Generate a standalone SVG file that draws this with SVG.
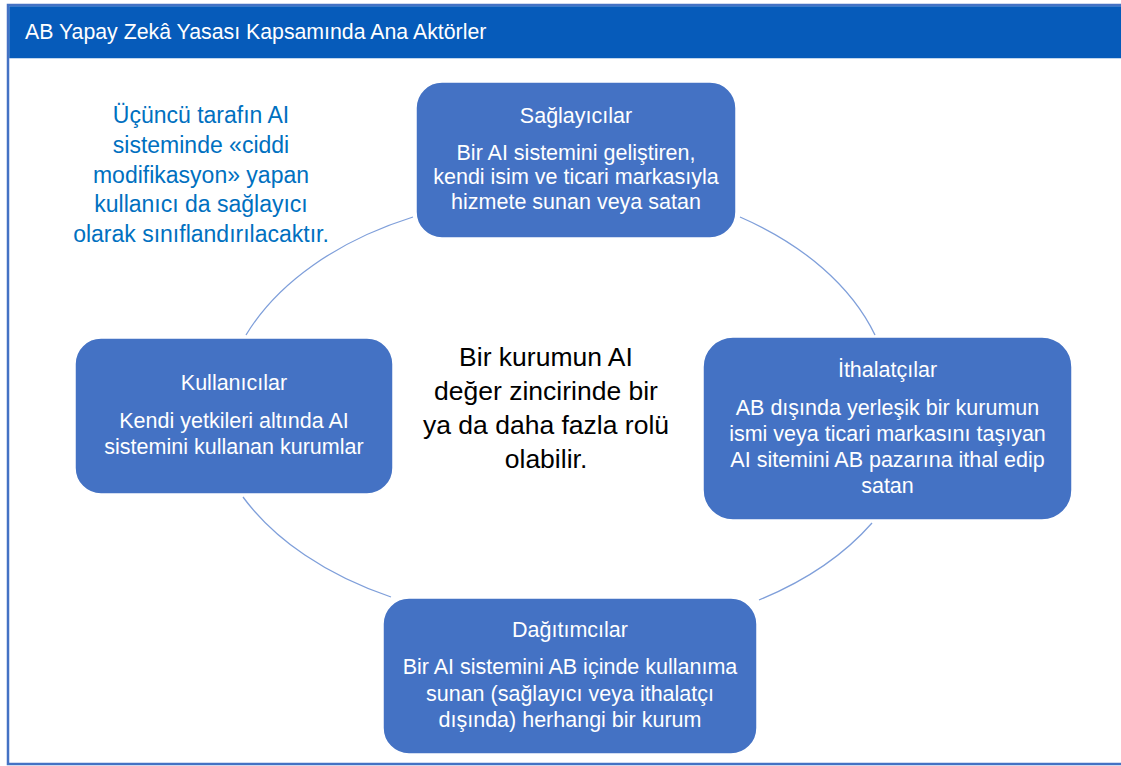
<svg xmlns="http://www.w3.org/2000/svg" width="1121" height="766" viewBox="0 0 1121 766">
<style>
  .node rect { fill: #4472C4; stroke: #FFFFFF; stroke-width: 1.5; }
  .node text { fill: #FFFFFF; font-family: "Liberation Sans", Arial, sans-serif; font-size: 21.5px; text-anchor: middle; }
  .arc { fill: none; stroke: #7F9FDA; stroke-width: 1.3; }
  .note { fill: #0070C0; font-family: "Liberation Sans", Arial, sans-serif; font-size: 23px; text-anchor: middle; }
  .center { fill: #000000; font-family: "Liberation Sans", Arial, sans-serif; font-size: 26.5px; text-anchor: middle; }
  .title { fill: #FFFFFF; font-family: "Liberation Sans", Arial, sans-serif; font-size: 21.3px; }
</style>
<rect x="0" y="0" width="1121" height="766" fill="#FFFFFF"/>
<g id="frame">
  <rect x="8" y="5" width="1140" height="759" fill="#FFFFFF" stroke="#4472C4" stroke-width="2.5"/>
  <rect x="9.25" y="6.25" width="1120" height="52" fill="#065BBA"/>
  <text class="title" x="25" y="38.5">AB Yapay Zekâ Yasası Kapsamında Ana Aktörler</text>
</g>
<g id="connectors">
  <path class="arc" d="M 246 335 A 332 222 0 0 1 413 217"/>
  <path class="arc" d="M 740 217 A 332 222 0 0 1 875 335"/>
  <path class="arc" d="M 872 523 A 332 222 0 0 1 759 600"/>
  <path class="arc" d="M 391 597 A 332 222 0 0 1 243 497"/>
</g>
<g id="note">
  <text class="note" x="201" y="122.5">Üçüncü tarafın AI</text>
  <text class="note" x="201" y="153">sisteminde «ciddi</text>
  <text class="note" x="201" y="183">modifikasyon» yapan</text>
  <text class="note" x="201" y="212">kullanıcı da sağlayıcı</text>
  <text class="note" x="201" y="242">olarak sınıflandırılacaktır.</text>
</g>
<g id="center-text">
  <text class="center" x="546" y="366">Bir kurumun AI</text>
  <text class="center" x="546" y="400">değer zincirinde bir</text>
  <text class="center" x="546" y="434">ya da daha fazla rolü</text>
  <text class="center" x="546" y="468">olabilir.</text>
</g>
<g id="node-saglayicilar" class="node">
  <rect x="416" y="82" width="320" height="156" rx="26" ry="26"/>
  <text x="576" y="123">Sağlayıcılar</text>
  <text x="576" y="159.5">Bir AI sistemini geliştiren,</text>
  <text x="576" y="184">kendi isim ve ticari markasıyla</text>
  <text x="576" y="208.5">hizmete sunan veya satan</text>
</g>
<g id="node-ithalatcilar" class="node">
  <rect x="703" y="337" width="369" height="183" rx="30" ry="30"/>
  <text x="887.5" y="377">İthalatçılar</text>
  <text x="887.5" y="414.5">AB dışında yerleşik bir kurumun</text>
  <text x="887.5" y="440.5">ismi veya ticari markasını taşıyan</text>
  <text x="887.5" y="467">AI sitemini AB pazarına ithal edip</text>
  <text x="887.5" y="493">satan</text>
</g>
<g id="node-dagitimcilar" class="node">
  <rect x="383" y="598" width="374" height="156" rx="26" ry="26"/>
  <text x="570" y="637">Dağıtımcılar</text>
  <text x="570" y="674">Bir AI sistemini AB içinde kullanıma</text>
  <text x="570" y="701">sunan (sağlayıcı veya ithalatçı</text>
  <text x="570" y="727">dışında) herhangi bir kurum</text>
</g>
<g id="node-kullanicilar" class="node">
  <rect x="75" y="338" width="318" height="156" rx="26" ry="26"/>
  <text x="234" y="390">Kullanıcılar</text>
  <text x="234" y="427.5">Kendi yetkileri altında AI</text>
  <text x="234" y="453.5">sistemini kullanan kurumlar</text>
</g>
</svg>
